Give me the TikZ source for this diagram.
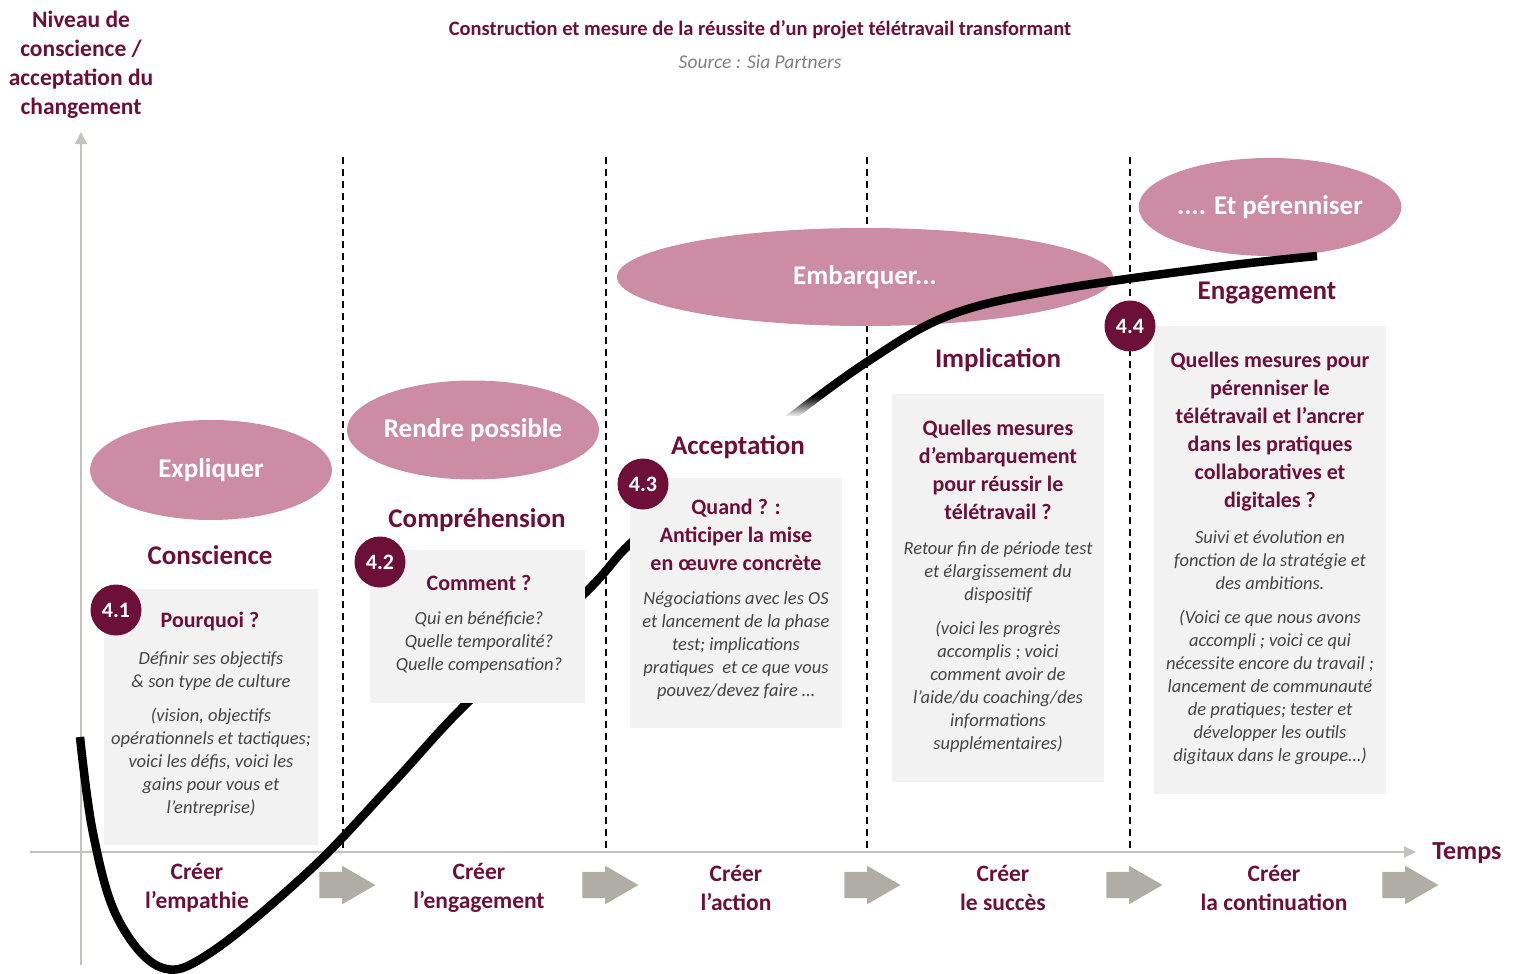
\documentclass[tikz,border=0pt]{standalone}
\usepackage{fontspec}
\setmainfont{Carlito}
\usetikzlibrary{arrows.meta,shapes.geometric,shapes.arrows,fadings}
\definecolor{wine}{RGB}{108,16,58}
\definecolor{rose}{RGB}{204,140,163}
\definecolor{panelgray}{RGB}{242,242,242}
\definecolor{notegray}{RGB}{68,68,68}
\definecolor{flowgray}{RGB}{176,173,165}
\definecolor{axisgray}{RGB}{195,195,190}
\begin{document}
\begin{tikzpicture}[x=1pt,y=-1pt,
    bubble/.style={ellipse,fill=rose,text=white,inner sep=0pt,font=\bfseries\fontsize{27}{32}\selectfont},
    stage/.style={text=wine,font=\bfseries\fontsize{27}{32}\selectfont},
    badge/.style={circle,fill=wine,text=white,minimum size=51pt,inner sep=0pt,font=\bfseries\fontsize{22}{26}\selectfont},
    question/.style={align=center,text=wine,font=\bfseries\fontsize{22}{28}\selectfont},
    note/.style={align=center,text=notegray,font=\itshape\fontsize{18.5}{23}\selectfont},
    phase/.style={align=center,text=wine,font=\bfseries\fontsize{23.5}{29}\selectfont},
    flow/.style={single arrow,fill=flowgray,inner xsep=0pt,inner ysep=13pt,minimum height=56pt,single arrow head extend=6pt,single arrow tip angle=60},
    divider/.style={black,line width=1.6pt,dash pattern=on 7pt off 5pt}]
            \useasboundingbox (0,0) rectangle (1519,974);

            % axes
            \draw[axisgray,line width=1.8pt,-{Triangle[length=12pt,width=12pt]}] (81,965)--(81,132);
            \draw[axisgray,line width=1.8pt,-{Triangle[length=12pt,width=11pt]}] (30,852)--(1416,852);
            \draw[divider] (343,157)--(343,852);
            \draw[divider] (606,157)--(606,852);
            \draw[divider] (867,157)--(867,852);
            \draw[divider] (1130,157)--(1130,852);

            \node[text=wine,font=\bfseries\fontsize{20.5}{24}\selectfont] (title) at (760,30) {Construction et mesure de la réussite d’un projet télétravail transformant};
            \node[text=black!50,font=\itshape\fontsize{19.5}{23}\selectfont] (source) at (760,62) {Source : Sia Partners};
            \node[phase] (yaxis) at (81,65) {Niveau de\\conscience /\\acceptation du\\changement};
            \node[text=wine,font=\bfseries\fontsize{26}{30}\selectfont] (temps) at (1467,853) {Temps};

            % ellipses
            \node[bubble,minimum width=242pt,minimum height=100pt] (expliquer) at (211,470) {Expliquer};
            \node[bubble,minimum width=243pt,minimum height=99pt] (rendre) at (473,430) {Rendre possible};
            \node[bubble,minimum width=496pt,minimum height=98pt] (embarquer) at (865,277) {Embarquer...};
            \node[bubble,minimum width=255pt,minimum height=98pt] (perenniser) at (1270,207) {.... Et pérenniser};

            % curve
            \draw[line width=8.5pt] plot[smooth,tension=0.6] coordinates {(80,737) (93,833) (117,917) (160,967) (210,953) (310,870) (393,783) (467,703) (585,593) (631,543) (700,488) (783,423) (870,360) (950,315) (1055,290) (1217,267) (1317,256)};

            % panels
            \fill[panelgray] (104,589) rectangle (318,845);
            \fill[panelgray] (370,550) rectangle (585,703);
            \fill[panelgray] (630,478) rectangle (842,728);
            \fill[panelgray] (892,394) rectangle (1104,782);
            \fill[panelgray] (1154,326) rectangle (1386,794);

            \node[stage] (conscience) at (210,555) {Conscience};
            \node[stage] (comprehension) at (477,520) {Compréhension};
            \node[stage,fill=white,inner xsep=6pt,minimum height=62pt] (acceptation) at (738,447) {Acceptation};
            \fill[white,path fading=north] (700,396) rectangle (830,417);
            \node[stage] (implication) at (998,360) {Implication};
            \node[stage] (engagement) at (1267,293) {Engagement};

            \node[badge] (b1) at (116,610) {4.1};
            \node[badge] (b2) at (380,562) {4.2};
            \node[badge] (b3) at (643,484) {4.3};
            \node[badge] (b4) at (1130,326) {4.4};

            \node[question] (q1) at (210,622) {Pourquoi ?};
            \node[note] (n1) at (211,734.5) {Définir ses objectifs\\\& son type de culture\\[11pt](vision, objectifs\\opérationnels et tactiques;\\voici les défis, voici les\\gains pour vous et\\l’entreprise)};
            \node[question] (q2) at (479,583) {Comment ?};
            \node[note] (n2) at (479,643) {Qui en bénéficie?\\Quelle temporalité?\\Quelle compensation?};
            \node[question] (q3) at (736,535) {Quand ? :\\Anticiper la mise\\en œuvre concrète};
            \node[note] (n3) at (736,646) {Négociations avec les OS\\et lancement de la phase\\test; implications\\pratiques \ et ce que vous\\pouvez/devez faire …};
            \node[question] (q4) at (998,470) {Quelles mesures\\d’embarquement\\pour réussir le\\télétravail ?};
            \node[note] (n4) at (998,647.5) {Retour fin de période test\\et élargissement du\\dispositif\\[11pt](voici les progrès\\accomplis ; voici\\comment avoir de\\l’aide/du coaching/des\\informations\\supplémentaires)};
            \node[question] (q5) at (1270,432) {Quelles mesures pour\\pérenniser le\\télétravail et l’ancrer\\dans les pratiques\\collaboratives et\\digitales ?};
            \node[note] (n5) at (1270,647.5) {Suivi et évolution en\\fonction de la stratégie et\\des ambitions.\\[11pt](Voici ce que nous avons\\accompli ; voici ce qui\\nécessite encore du travail ;\\lancement de communauté\\de pratiques; tester et\\développer les outils\\digitaux dans le groupe…)};

            % phases
            \node[phase] (p1) at (197,887.5) {Créer\\l’empathie};
            \node[phase] (p2) at (479,887.5) {Créer\\l’engagement};
            \node[phase] (p3) at (736,887.5) {Créer\\l’action};
            \node[phase] (p4) at (1003,887.5) {Créer\\le succès};
            \node[phase] (p5) at (1274,887.5) {Créer\\la continuation};
            \node[flow] (f1) at (336,885) {};
            \node[flow] (f2) at (599,885) {};
            \node[flow] (f3) at (861,885) {};
            \node[flow] (f4) at (1123,885) {};
            \node[flow] (f5) at (1399,885) {};

\end{tikzpicture}
\end{document}
